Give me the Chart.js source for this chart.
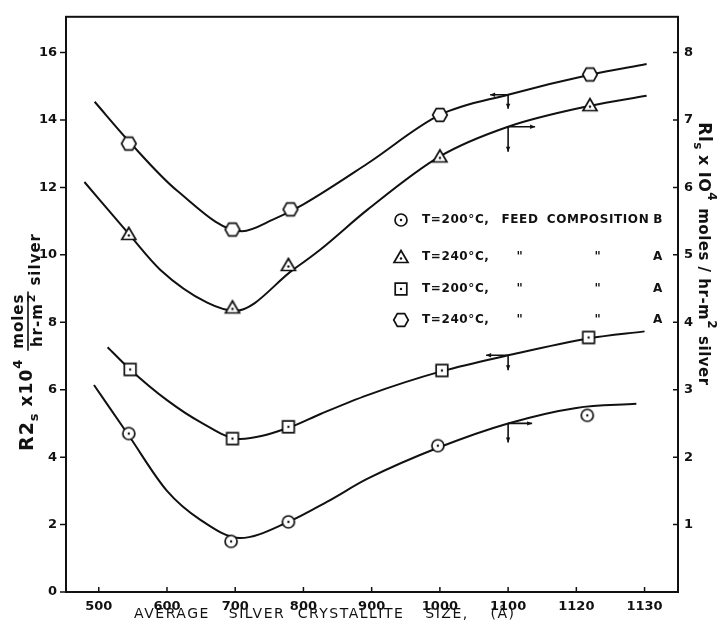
<!DOCTYPE html>
<html>
<head>
<meta charset="utf-8">
<script src="https://cdn.jsdelivr.net/npm/chart.js@4.4.1/dist/chart.umd.min.js"></script>
<style>
  html, body { margin: 0; padding: 0; background: #fff; }
  canvas { display: block; }
</style>
</head>
<body>
<canvas id="chart" width="719" height="629"></canvas>
<script>
// ---- values ----
const xTicks = [500, 600, 700, 800, 900, 1000, 1100, 1200, 1300];
const xTickLabels = ['500', '600', '700', '800', '900', '1000', '1100', '1120', '1130'];
const leftTicks = [0, 2, 4, 6, 8, 10, 12, 14, 16];
const rightTicks = [1, 2, 3, 4, 5, 6, 7, 8];

// fitted curves: hexagon + square on the left axis (R2s), triangle + circle on the right axis (R1s)
const curveHexX = [494, 545, 615, 710, 756, 800, 894, 1000, 1100, 1220, 1303];
const curveHexY = [14.54, 13.35, 11.9, 10.7, 11.05, 11.5, 12.71, 14.15, 14.75, 15.34, 15.66];
const curveTriX = [479, 544, 590, 659, 700, 785, 825, 894, 1000, 1100, 1220, 1303];
const curveTriY = [6.08, 5.31, 4.78, 4.29, 4.17, 4.78, 5.08, 5.67, 6.46, 6.9, 7.21, 7.36];
const curveSqX = [513, 546, 600, 649, 707, 778, 825, 894, 1003, 1100, 1218, 1300];
const curveSqY = [7.26, 6.6, 5.69, 5.04, 4.54, 4.87, 5.28, 5.84, 6.55, 7.02, 7.52, 7.73];
const curveCircX = [493, 544, 600, 649, 707, 778, 835, 894, 1000, 1100, 1200, 1288];
const curveCircY = [3.07, 2.32, 1.5, 1.07, 0.8, 1.04, 1.34, 1.68, 2.15, 2.5, 2.73, 2.79];

// measured points
const markHexX = [544, 696, 781, 1000, 1220];
const markHexY = [13.3, 10.75, 11.35, 14.15, 15.35];
const markTriX = [544, 696, 778, 1000, 1220];
const markTriY = [5.31, 4.22, 4.85, 6.46, 7.22];
const markSqX = [546, 696, 778, 1003, 1218];
const markSqY = [6.6, 4.55, 4.9, 6.57, 7.55];
const markCircX = [544, 694, 778, 997, 1216];
const markCircY = [2.35, 0.75, 1.04, 2.17, 2.62];

const legendTemp = ['T=200°C,', 'T=240°C,', 'T=200°C,', 'T=240°C,'];
const legendFeed = ['FEED', '"', '"', '"'];
const legendComp = ['COMPOSITION', '"', '"', '"'];
const legendMix = ['B', 'A', 'A', 'A'];
const legendMarks = ['circ', 'tri', 'sq', 'hex'];

const INK = '#111';

function pts(xs, ys) {
    return xs.map((x, i) => ({ x: x, y: ys[i] }));
}

// marker images
function makeMarker(kind) {
    const c = document.createElement('canvas');
    c.width = 20; c.height = 20;
    const g = c.getContext('2d');
    g.strokeStyle = INK;
    g.fillStyle = '#fff';
    g.lineWidth = 1.7;
    g.beginPath();
    if (kind === 'hex') {
        for (let k = 0; k < 6; k++) {
            const a = k * Math.PI / 3;
            const px = 10 + 7.3 * Math.cos(a), py = 10 + 7.3 * Math.sin(a);
            k === 0 ? g.moveTo(px, py) : g.lineTo(px, py);
        }
        g.closePath();
    } else if (kind === 'circ') {
        g.arc(10, 10, 6, 0, Math.PI * 2);
    } else if (kind === 'tri') {
        g.moveTo(10, 3.5); g.lineTo(17, 15.5); g.lineTo(3, 15.5); g.closePath();
    } else {
        g.rect(4.2, 4.2, 11.6, 11.6);
    }
    g.fill();
    g.stroke();
    if (kind !== 'hex') {
        g.fillStyle = INK;
        g.beginPath();
        g.arc(10, kind === 'tri' ? 11.5 : 10, 1.2, 0, Math.PI * 2);
        g.fill();
    }
    return c;
}
const markers = { hex: makeMarker('hex'), circ: makeMarker('circ'), tri: makeMarker('tri'), sq: makeMarker('sq') };

function curveSet(xs, ys, axis) {
    return {
        data: pts(xs, ys), yAxisID: axis, showLine: true, pointRadius: 0,
        borderColor: INK, borderWidth: 2, cubicInterpolationMode: 'monotone', order: 2
    };
}
function markSet(xs, ys, axis, kind) {
    return {
        data: pts(xs, ys), yAxisID: axis, showLine: false,
        pointStyle: markers[kind], pointRadius: 7, order: 1
    };
}

// draws a row of text pieces centred on the origin of the current transform
function drawRuns(ctx, runs) {
    let total = 0;
    runs.forEach(r => {
        ctx.font = r.font;
        r.w = r.frac ? Math.max(ctx.measureText(r.frac[0]).width, ctx.measureText(r.frac[1]).width + 8) + 4
                     : ctx.measureText(r.text).width;
        total += r.w + (r.gap || 0);
    });
    let x = -total / 2;
    ctx.textBaseline = 'middle';
    ctx.textAlign = 'left';
    runs.forEach(r => {
        ctx.font = r.font;
        if (r.frac) {
            const dw = ctx.measureText(r.frac[1]).width;
            ctx.textAlign = 'center';
            ctx.fillText(r.frac[0], x + r.w / 2, -9);
            ctx.fillText(r.frac[1], x + r.w / 2 - 4, 10);
            ctx.textAlign = 'left';
            ctx.lineWidth = 1.6;
            ctx.beginPath(); ctx.moveTo(x, 0); ctx.lineTo(x + r.w, 0); ctx.stroke();
            if (r.sup) {
                ctx.font = 'bold 11px "DejaVu Sans"';
                ctx.fillText(r.sup, x + r.w / 2 - 4 + dw / 2 + 1, 4);
            }
        } else {
            ctx.fillText(r.text, x, r.dy || 0);
        }
        x += r.w + (r.gap || 0);
    });
}

function arrowHead(ctx, x, y, dx, dy) {
    const s = 5;
    ctx.beginPath();
    ctx.moveTo(x, y);
    ctx.lineTo(x - dx * s - dy * 2.2, y - dy * s - dx * 2.2);
    ctx.lineTo(x - dx * s + dy * 2.2, y - dy * s + dx * 2.2);
    ctx.closePath();
    ctx.fill();
}

const decor = {
    id: 'decor',
    beforeDraw(chart) {
        const ctx = chart.ctx;
        ctx.save();
        ctx.fillStyle = '#fff';
        ctx.fillRect(0, 0, chart.width, chart.height);
        ctx.restore();
    },
    afterDraw(chart) {
        const ctx = chart.ctx;
        const a = chart.chartArea;
        const xs = chart.scales.x, yl = chart.scales.y, yr = chart.scales.y2;
        ctx.save();
        ctx.strokeStyle = INK;
        ctx.fillStyle = INK;

        // frame and tick marks
        ctx.lineWidth = 2;
        ctx.strokeRect(a.left, a.top, a.right - a.left, a.bottom - a.top);
        ctx.lineWidth = 1.5;
        ctx.beginPath();
        leftTicks.forEach(v => { const y = yl.getPixelForValue(v); ctx.moveTo(a.left - 6, y); ctx.lineTo(a.left, y); });
        rightTicks.forEach(v => { const y = yr.getPixelForValue(v); ctx.moveTo(a.right - 5, y); ctx.lineTo(a.right, y); });
        xTicks.forEach(v => { const x = xs.getPixelForValue(v); ctx.moveTo(x, a.bottom); ctx.lineTo(x, a.bottom - 5); });
        ctx.stroke();

        // x title, word by word as lettered on the original
        ctx.font = '14px "DejaVu Sans"';
        ctx.textBaseline = 'middle';
        ctx.textAlign = 'center';
        ctx.letterSpacing = '1.5px';
        const words = ['AVERAGE', 'SILVER', 'CRYSTALLITE', 'SIZE,', '(Å)'];
        const wordX = [172, 257, 351, 447, 503];
        words.forEach((w, i) => ctx.fillText(w, wordX[i], 614));
        ctx.letterSpacing = '0px';

        // left title
        ctx.save();
        ctx.translate(28, 342);
        ctx.rotate(-Math.PI / 2);
        ctx.letterSpacing = '1px';
        drawRuns(ctx, [
            { text: 'R2', font: 'bold 19px "DejaVu Sans"' },
            { text: 's', font: 'bold 13px "DejaVu Sans"', dy: 7, gap: 6 },
            { text: 'x10', font: 'bold 17px "DejaVu Sans"' },
            { text: '4', font: 'bold 13px "DejaVu Sans"', dy: -9, gap: 8 },
            { frac: ['moles', 'hr-m'], sup: '2', font: 'bold 15px "DejaVu Sans"', gap: 6 },
            { text: 'silver', font: 'bold 15px "DejaVu Sans"', dy: 8 }
        ]);
        ctx.restore();

        // right title
        ctx.save();
        ctx.translate(703, 254);
        ctx.rotate(Math.PI / 2);
        ctx.letterSpacing = '0.5px';
        drawRuns(ctx, [
            { text: 'Rl', font: 'bold 17px "DejaVu Sans"' },
            { text: 's', font: 'bold 12px "DejaVu Sans"', dy: 6, gap: 5 },
            { text: 'x IO', font: 'bold 16px "DejaVu Sans"' },
            { text: '4', font: 'bold 12px "DejaVu Sans"', dy: -8, gap: 7 },
            { text: 'moles / hr-m', font: 'bold 15px "DejaVu Sans"' },
            { text: '2', font: 'bold 12px "DejaVu Sans"', dy: -8, gap: 7 },
            { text: 'silver', font: 'bold 15px "DejaVu Sans"' }
        ]);
        ctx.restore();

        // legend
        const rowY = [220, 257, 289, 320];
        ctx.font = 'bold 12px "DejaVu Sans"';
        ctx.letterSpacing = '0.6px';
        ctx.textBaseline = 'middle';
        rowY.forEach((y, i) => {
            ctx.drawImage(markers[legendMarks[i]], 391, y - 10);
            ctx.textAlign = 'left';
            ctx.fillText(legendTemp[i], 422, y);
            ctx.textAlign = 'center';
            ctx.fillText(legendFeed[i], 520, y);
            ctx.fillText(legendComp[i], 598, y);
            ctx.fillText(legendMix[i], 658, y);
        });
        ctx.letterSpacing = '0px';

        // axis arrows at 1100 on each curve
        const arrows = [
            { xs: curveHexX, ys: curveHexY, scale: yl, dir: -1, h: 18, v: 14 },
            { xs: curveTriX, ys: curveTriY, scale: yr, dir: 1, h: 27, v: 25 },
            { xs: curveSqX, ys: curveSqY, scale: yl, dir: -1, h: 22, v: 15 },
            { xs: curveCircX, ys: curveCircY, scale: yr, dir: 1, h: 24, v: 19 }
        ];
        ctx.lineWidth = 1.6;
        arrows.forEach(ar => {
            const k = ar.xs.indexOf(1100);
            const px = xs.getPixelForValue(1100), py = ar.scale.getPixelForValue(ar.ys[k]);
            ctx.beginPath();
            ctx.moveTo(px, py); ctx.lineTo(px + ar.dir * ar.h, py);
            ctx.moveTo(px, py); ctx.lineTo(px, py + ar.v);
            ctx.stroke();
            arrowHead(ctx, px + ar.dir * ar.h, py, ar.dir, 0);
            arrowHead(ctx, px, py + ar.v, 0, 1);
        });
        ctx.restore();
    }
};

const tickFont = { family: 'DejaVu Sans', size: 13, weight: 'bold' };
const noGrid = { display: true, drawOnChartArea: false, drawTicks: false };

new Chart(document.getElementById('chart'), {
    type: 'scatter',
    data: {
        datasets: [
            curveSet(curveHexX, curveHexY, 'y'),
            curveSet(curveTriX, curveTriY, 'y2'),
            curveSet(curveSqX, curveSqY, 'y'),
            curveSet(curveCircX, curveCircY, 'y2'),
            markSet(markHexX, markHexY, 'y', 'hex'),
            markSet(markTriX, markTriY, 'y2', 'tri'),
            markSet(markSqX, markSqY, 'y', 'sq'),
            markSet(markCircX, markCircY, 'y2', 'circ')
        ]
    },
    options: {
        responsive: false,
        animation: false,
        devicePixelRatio: 1,
        layout: { padding: { top: 12, left: 0, right: 0, bottom: 0 } },
        plugins: { legend: { display: false }, tooltip: { enabled: false } },
        scales: {
            x: {
                type: 'linear', min: 452, max: 1349,
                afterBuildTicks: s => { s.ticks = xTicks.map(v => ({ value: v })); },
                afterFit: s => { s.height = 37; },
                grid: noGrid, border: { display: false },
                ticks: {
                    color: INK, font: tickFont, padding: 7, maxRotation: 0, autoSkip: false,
                    callback: v => xTickLabels[xTicks.indexOf(v)]
                }
            },
            y: {
                position: 'left', min: 0, max: 17.06,
                afterBuildTicks: s => { s.ticks = leftTicks.map(v => ({ value: v })); },
                afterFit: s => { s.width = 66; },
                grid: noGrid, border: { display: false },
                ticks: { color: INK, font: tickFont, padding: 9 }
            },
            y2: {
                position: 'right', min: 0, max: 8.53,
                afterBuildTicks: s => { s.ticks = rightTicks.map(v => ({ value: v })); },
                afterFit: s => { s.width = 41; },
                grid: noGrid, border: { display: false },
                ticks: { color: INK, font: tickFont, padding: 6 }
            }
        }
    },
    plugins: [decor]
});
</script>
</body>
</html>
